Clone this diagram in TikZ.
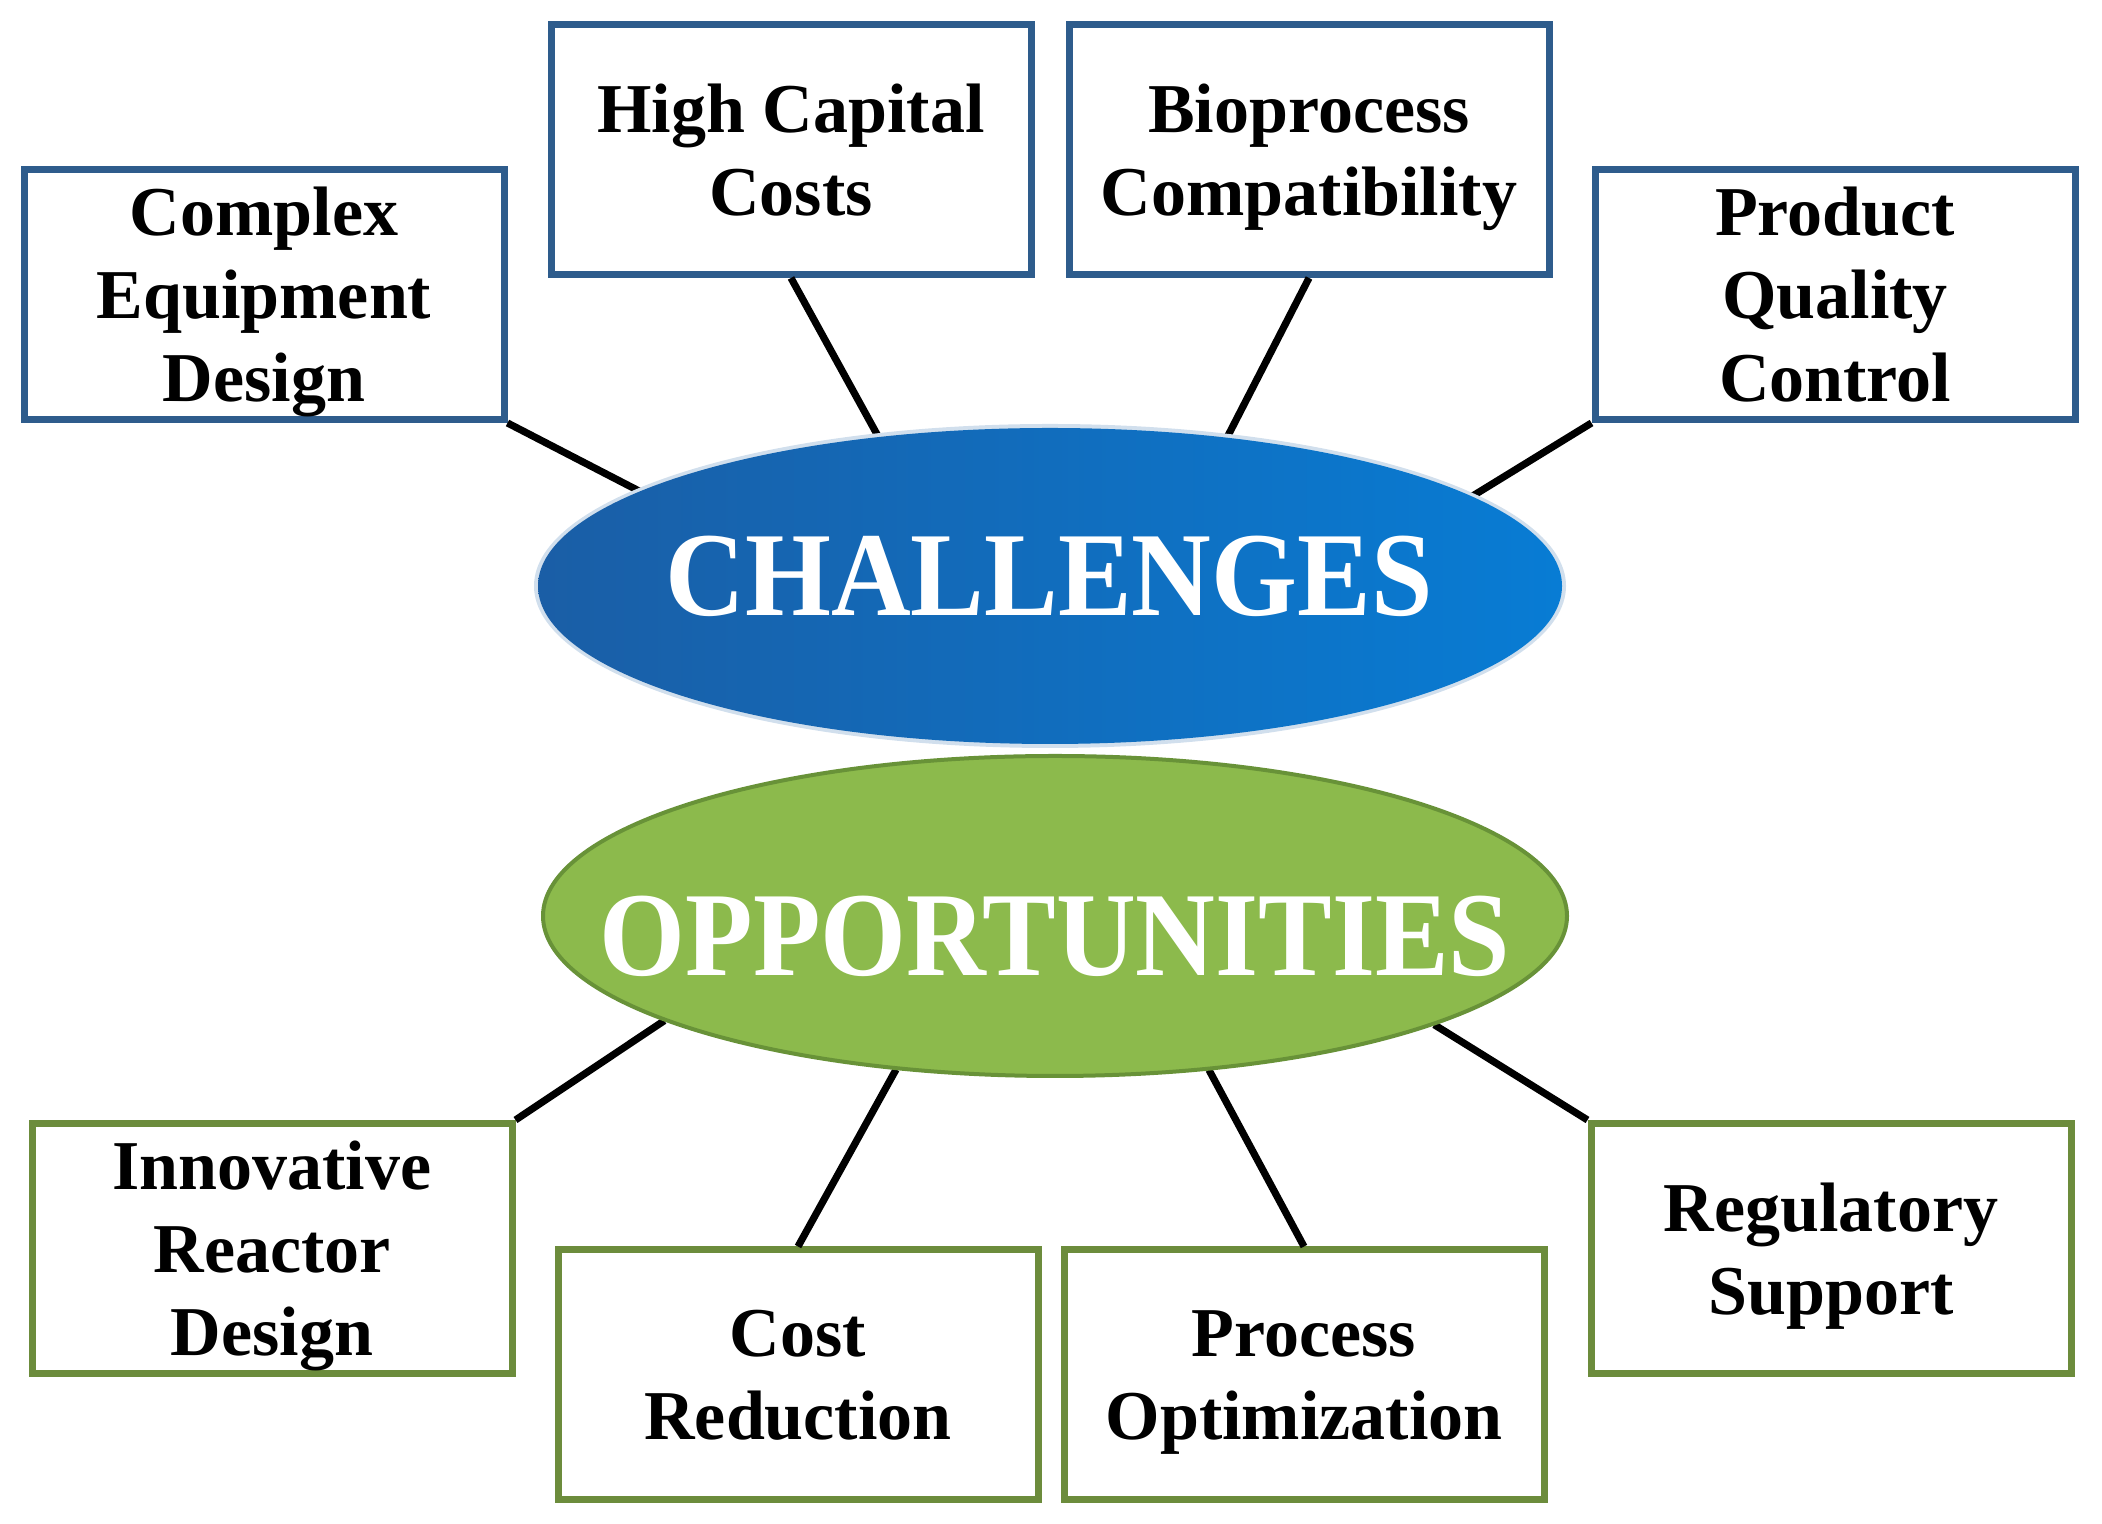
\documentclass[tikz,border=0pt]{standalone}
\usepackage{fontspec}
\setmainfont{Liberation Serif}
\usetikzlibrary{shapes.geometric}
\definecolor{bluebox}{RGB}{46,92,140}
\definecolor{greenbox}{RGB}{108,140,60}
\definecolor{blueL}{RGB}{26,94,166}
\definecolor{blueR}{RGB}{8,124,212}
\definecolor{greenfill}{RGB}{140,186,76}
\definecolor{greenedge}{RGB}{104,146,56}
\tikzset{
  cbox/.style={draw=bluebox, line width=3.5pt, fill=white, minimum width=240pt, minimum height=125pt, inner sep=0pt, align=center, text depth=0pt, font=\bfseries\fontsize{35}{41.5}\selectfont},
  obox/.style={cbox, draw=greenbox},
  conn/.style={draw=black, line width=3.6pt},
  bigtext/.style={text=white, inner sep=0pt, font=\bfseries\fontsize{60}{60}\selectfont},
}
\begin{document}
\begin{tikzpicture}[x=0.5pt,y=0.5pt]
\useasboundingbox (0,0) rectangle (2102,1524);
% boxes
\node[cbox] (ced) at (264,1229.5) {Complex\\Equipment\\Design};
\node[cbox] (hcc) at (791,1374.5) {High Capital\\Costs};
\node[cbox] (bc) at (1309,1374.5) {Bioprocess\\Compatibility};
\node[cbox] (pqc) at (1835,1229.5) {Product\\Quality\\Control};
\node[obox] (ird) at (272,275.5) {Innovative\\Reactor\\Design};
\node[obox] (cr) at (798,149) {Cost\\Reduction};
\node[obox] (po) at (1304,149) {Process\\Optimization};
\node[obox] (rs) at (1831,275.5) {Regulatory\\Support};
% ellipses (shapes used for connector anchors)
\node[ellipse, minimum width=512pt, minimum height=158pt, inner sep=0pt] (ch) at (1050,938) {};
\node[ellipse, minimum width=513pt, minimum height=161pt, inner sep=0pt] (op) at (1055,608) {};
% connectors
\draw[conn] (ced.south east) -- (ch.167.8);
\draw[conn] (hcc.south) -- (ch.139.4);
\draw[conn] (bc.south) -- (ch.40.8);
\draw[conn] (pqc.south west) -- (ch.12);
\draw[conn] (ird.north east) -- (op.195.3);
\draw[conn] (cr.north) -- (op.224);
\draw[conn] (po.north) -- (op.315);
\draw[conn] (rs.north west) -- (op.344);
% ellipse fills
\fill[white!80!blueL] (ch.center) ellipse [x radius=516, y radius=162];
\shade[left color=blueL, right color=blueR] (ch.center) ellipse [x radius=512, y radius=158];
\node[bigtext] (chtxt) at (1049,947.5) {\scalebox{0.92}[1]{CHALLENGES}};
\fill[greenfill, draw=greenedge, line width=2pt] (op.center) ellipse [x radius=512, y radius=160];
\node[bigtext] (optxt) at (1055,588) {\scalebox{0.92}[1]{OPPORTUNITIES}};
\end{tikzpicture}
\end{document}
